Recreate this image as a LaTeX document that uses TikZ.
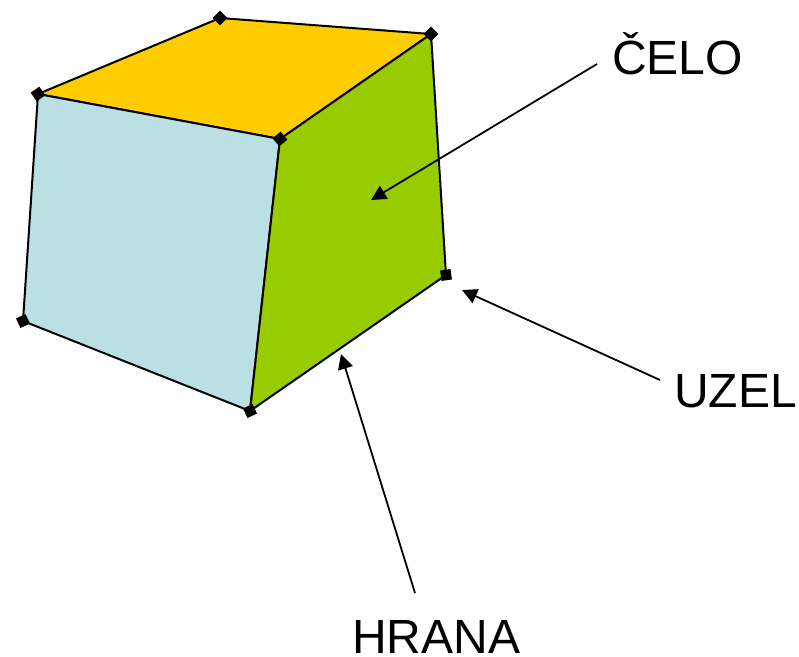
\documentclass[tikz,border=0pt]{standalone}
\usepackage{fontspec}
\setmainfont{Liberation Sans}
\usetikzlibrary{arrows.meta}
\definecolor{topface}{HTML}{FFCC00}
\definecolor{sideface}{HTML}{99CC00}
\definecolor{frontface}{HTML}{BBE0E3}
\tikzset{
  face/.style={draw=black,line width=2pt,line join=round},
  nodept/.style={fill=black,draw=none,rectangle,inner sep=0pt,minimum size=10.5pt},
  lbl/.style={font=\fontsize{48}{50}\selectfont,inner sep=0pt,anchor=base west,text=black},
  pointer/.style={draw=black,line width=1.8pt,-{Triangle[length=15pt,width=15pt]}}
}
\begin{document}
\begin{tikzpicture}[x=1pt,y=-1pt]
\useasboundingbox (0,0) rectangle (799,656);
\coordinate (a) at (38,94);
\coordinate (b) at (220,18);
\coordinate (c) at (431,34);
\coordinate (d) at (280,139);
\coordinate (e) at (23,321);
\coordinate (f) at (250,411);
\coordinate (g) at (446,275);
\fill[white] (0,0) rectangle (799,656);
\draw[face,fill=topface] (a) -- (b) -- (c) -- (d) -- cycle;
\draw[face,fill=frontface] (a) -- (d) -- (f) -- (e) -- cycle;
\draw[face,fill=sideface] (d) -- (c) -- (g) -- (f) -- cycle;
\foreach \p/\n/\r in {a/na/35,b/nb/45,c/nc/45,d/nd/40,e/ne/25,f/nf/25,g/ng/8} \node[nodept,rotate=\r] (\n) at (\p) {};
\node[lbl] (celo) at (612,74) {ČELO};
\node[lbl] (uzel) at (674,407) {UZEL};
\node[lbl] (hrana) at (352,653) {HRANA};
\coordinate (p1s) at (597,64);
\coordinate (p1e) at (371,200);
\coordinate (p2s) at (660,380);
\coordinate (p2e) at (462,290);
\coordinate (p3s) at (415,593);
\coordinate (p3e) at (341,354);
\draw[pointer] (p1s) -- (p1e);
\draw[pointer] (p2s) -- (p2e);
\draw[pointer] (p3s) -- (p3e);
\end{tikzpicture}
\end{document}
